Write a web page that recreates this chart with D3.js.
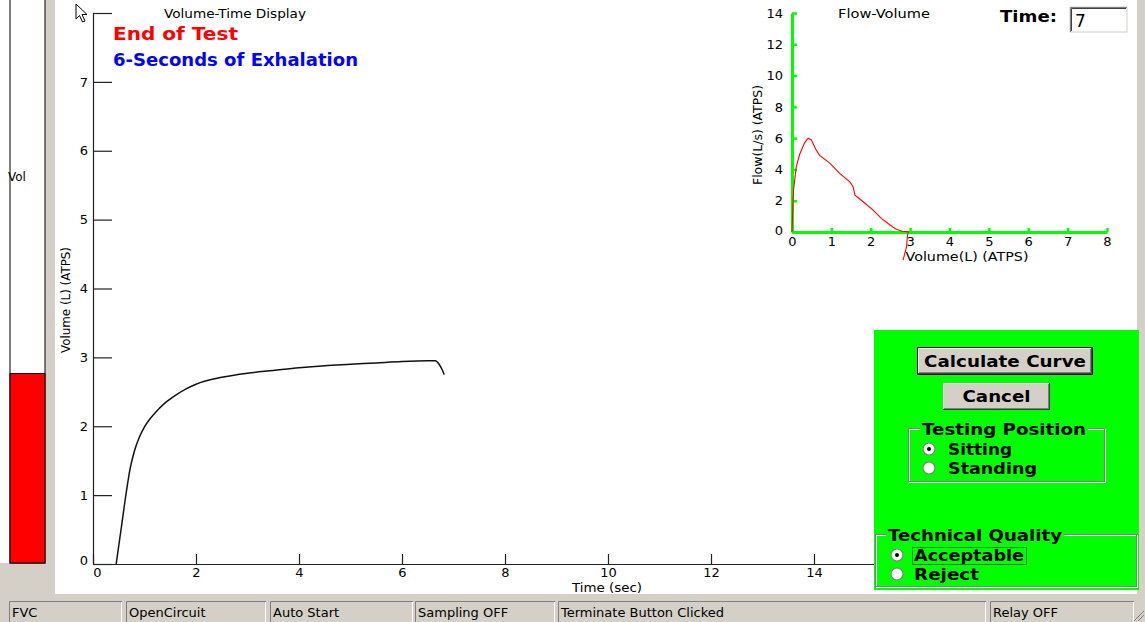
<!DOCTYPE html>
<html>
<head>
<meta charset="utf-8">
<script src="https://cdn.jsdelivr.net/npm/d3@7"></script>
<style>
  html, body { margin: 0; padding: 0; background: #d4d0c8; }
  svg { display: block; font-family: "DejaVu Sans", sans-serif; }
</style>
</head>
<body>
<svg id="chart" width="1145" height="622"></svg>
<script>
// ---- Volume-time trace (seconds, litres) ----
const timeSec = [0.45, 0.55, 0.65, 0.72, 0.8, 0.9, 1.0, 1.2, 1.4, 1.6, 1.8, 2.0, 2.5, 3.0, 3.5, 4.0, 4.5, 5.0, 5.5, 6.0, 6.5, 6.65, 6.72, 6.78, 6.82];
const volumeL = [0, 0.53, 1.06, 1.38, 1.63, 1.84, 1.99, 2.19, 2.34, 2.45, 2.54, 2.61, 2.71, 2.77, 2.81, 2.85, 2.88, 2.90, 2.92, 2.94, 2.95, 2.95, 2.90, 2.82, 2.75];

// ---- Flow-volume loop (litres, L/s) ----
const fvVolume = [0, 0.02, 0.04, 0.11, 0.2, 0.32, 0.41, 0.49, 0.6, 0.7, 0.96, 1.21, 1.47, 1.55, 1.6, 1.8, 2.06, 2.27, 2.49, 2.65, 2.8, 2.95, 2.93, 2.91, 2.82];
const fvFlow   = [0, 1.5, 2.7, 4.2, 5.0, 5.7, 6.0, 5.9, 5.3, 4.9, 4.4, 3.75, 3.2, 2.9, 2.35, 1.95, 1.4, 0.87, 0.45, 0.17, 0.05, 0.02, -0.3, -0.94, -1.8];

// ---- Axis ticks ----
const timeTicks = [0, 2, 4, 6, 8, 10, 12, 14];
const volumeTicks = [0, 1, 2, 3, 4, 5, 6, 7, 8];
const fvVolumeTicks = [0, 1, 2, 3, 4, 5, 6, 7, 8];
const fvFlowTicks = [0, 2, 4, 6, 8, 10, 12, 14];

// ---- Status bar panes ----
const statusPanes = ["FVC", "OpenCircuit", "Auto Start", "Sampling OFF", "Terminate Button Clicked", "Relay OFF"];
const statusEdges = [[9, 122], [126, 266], [270, 413], [415, 555], [558, 986], [990, 1134]];

const GREY = "#d4d0c8", GREEN = "#00ff00";
const svg = d3.select("#chart");

// Window background and white drawing surface
svg.append("rect").attr("x", 0).attr("y", 0).attr("width", 1145).attr("height", 622).attr("fill", GREY);
svg.append("rect").attr("x", 55).attr("y", 0).attr("width", 1082).attr("height", 594).attr("fill", "#fff");
svg.append("rect").attr("x", 0).attr("y", 0).attr("width", 10).attr("height", 563).attr("fill", "#fff");

// ---- Volume gauge on the left ----
const gauge = d3.scaleLinear().domain([0, 8]).range([563, 12]);
svg.append("rect").attr("x", 10).attr("y", -2).attr("width", 35).attr("height", 565)
  .attr("fill", "#fff").attr("stroke", "#000").attr("stroke-width", 1);
const lastVol = volumeL[volumeL.length - 1];
svg.append("rect").attr("x", 10).attr("y", gauge(lastVol)).attr("width", 35)
  .attr("height", gauge(0) - gauge(lastVol)).attr("fill", "#ff0000")
  .attr("stroke", "#000").attr("stroke-width", 1);
svg.append("text").attr("x", 8).attr("y", 181).attr("font-size", 12).text("Vol");

// ---- Main volume-time plot ----
const x = d3.scaleLinear().domain([0, 16]).range([93, 917]);
const y = d3.scaleLinear().domain([0, 8]).range([564, 13]);

const yAxis = svg.append("g").attr("transform", `translate(${x(0)},0)`)
  .call(d3.axisLeft(y).tickValues(volumeTicks).tickSize(-19).tickSizeOuter(0).tickPadding(5)
    .tickFormat(d => d === 8 ? "" : d));
const xAxis = svg.append("g").attr("transform", `translate(0,${y(0)})`)
  .call(d3.axisBottom(x).tickValues(timeTicks).tickSize(-10).tickSizeOuter(0).tickPadding(4));
[yAxis, xAxis].forEach(g => {
  g.selectAll("path, line").attr("stroke", "#222").attr("stroke-width", 1.2);
  g.selectAll("text").attr("font-family", "DejaVu Sans").attr("font-size", 13).attr("fill", "#000");
});
yAxis.selectAll(".tick").filter(d => d === 0).select("text").attr("dy", "0.05em");
xAxis.selectAll(".tick").filter(d => d === 0).select("text").attr("dx", "0.3em");

svg.append("path")
  .datum(timeSec.map((t, i) => [t, volumeL[i]]))
  .attr("fill", "none").attr("stroke", "#111").attr("stroke-width", 1.5)
  .attr("d", d3.line().x(d => x(d[0])).y(d => y(d[1])).curve(d3.curveMonotoneX));

svg.append("text").attr("x", 164).attr("y", 18).attr("font-size", 12)
  .attr("textLength", 142).attr("lengthAdjust", "spacingAndGlyphs").text("Volume-Time Display");
svg.append("text").attr("x", 113).attr("y", 40).attr("font-size", 18.5).attr("font-weight", "bold")
  .attr("fill", "#ff0000").attr("textLength", 125).attr("lengthAdjust", "spacingAndGlyphs").text("End of Test");
svg.append("text").attr("x", 113).attr("y", 66).attr("font-size", 17).attr("font-weight", "bold")
  .attr("fill", "#0000ff").attr("textLength", 245).attr("lengthAdjust", "spacingAndGlyphs").text("6-Seconds of Exhalation");
svg.append("text").attr("transform", "translate(70,300) rotate(-90)").attr("text-anchor", "middle")
  .attr("font-size", 12).attr("textLength", 106).attr("lengthAdjust", "spacingAndGlyphs").text("Volume (L) (ATPS)");
svg.append("text").attr("x", 607).attr("y", 592).attr("text-anchor", "middle").attr("font-size", 12)
  .attr("textLength", 70).attr("lengthAdjust", "spacingAndGlyphs").text("Time (sec)");

// Mouse pointer resting on the top of the axis
svg.append("path")
  .attr("d", "M76,4 L76,19 L79.5,15.5 L82.5,22 L85,21 L82,14.5 L87,14.5 Z")
  .attr("fill", "#fff").attr("stroke", "#000").attr("stroke-width", 1);

// ---- Flow-volume inset ----
const fx = d3.scaleLinear().domain([0, 8]).range([792, 1107]);
const fy = d3.scaleLinear().domain([0, 14]).range([232, 13]);

const fyAxis = svg.append("g").attr("transform", `translate(${fx(0)},0)`)
  .call(d3.axisLeft(fy).tickValues(fvFlowTicks).tickSize(-5).tickSizeOuter(0).tickPadding(9));
const fxAxis = svg.append("g").attr("transform", `translate(0,${fy(0)})`)
  .call(d3.axisBottom(fx).tickValues(fvVolumeTicks).tickSize(-4).tickSizeOuter(0).tickPadding(5));
[fyAxis, fxAxis].forEach(g => {
  g.selectAll("path").attr("stroke", GREEN).attr("stroke-width", 3);
  g.selectAll("line").attr("stroke", GREEN).attr("stroke-width", 2.5);
  g.selectAll("text").attr("font-family", "DejaVu Sans").attr("font-size", 13).attr("fill", "#000");
});
fyAxis.selectAll(".tick").filter(d => d === 0).select("text").attr("dy", "0.2em");

svg.append("path")
  .datum(fvVolume.map((v, i) => [v, fvFlow[i]]))
  .attr("fill", "none").attr("stroke", "#ff0000").attr("stroke-width", 1.1)
  .attr("d", d3.line().x(d => fx(d[0])).y(d => fy(d[1])));

svg.append("text").attr("x", 838).attr("y", 18).attr("font-size", 12)
  .attr("textLength", 92).attr("lengthAdjust", "spacingAndGlyphs").text("Flow-Volume");
svg.append("text").attr("x", 967).attr("y", 261).attr("text-anchor", "middle").attr("font-size", 12.5)
  .attr("textLength", 123).attr("lengthAdjust", "spacingAndGlyphs").text("Volume(L) (ATPS)");
svg.append("text").attr("transform", "translate(762,135) rotate(-90)").attr("text-anchor", "middle")
  .attr("font-size", 12.5).attr("textLength", 100).attr("lengthAdjust", "spacingAndGlyphs").text("Flow(L/s) (ATPS)");

// Time read-out
svg.append("text").attr("x", 1000).attr("y", 22).attr("font-size", 16).attr("font-weight", "bold")
  .attr("textLength", 57).attr("lengthAdjust", "spacingAndGlyphs").text("Time:");
svg.append("rect").attr("x", 1070).attr("y", 7).attr("width", 57).attr("height", 25).attr("fill", "#fff")
  .attr("stroke", "#d4d0c8").attr("stroke-width", 1);
svg.append("path").attr("d", "M1070.5,32 L1070.5,7.5 L1127,7.5").attr("fill", "none").attr("stroke", "#808080");
svg.append("path").attr("d", "M1071.5,31 L1071.5,8.5 L1126,8.5").attr("fill", "none").attr("stroke", "#404040");
svg.append("text").attr("x", 1075).attr("y", 27).attr("font-size", 17).text("7");

// ---- Control panel ----
svg.append("rect").attr("x", 874).attr("y", 330).attr("width", 265).attr("height", 260).attr("fill", GREEN);

function button(bx, by, bw, bh, label, tl, isDefault) {
  const g = svg.append("g");
  if (isDefault) {
    g.append("rect").attr("x", bx).attr("y", by).attr("width", bw).attr("height", bh).attr("fill", "#000");
    bx += 1; by += 1; bw -= 2; bh -= 2;
  }
  g.append("rect").attr("x", bx).attr("y", by).attr("width", bw).attr("height", bh).attr("fill", "#404040");
  g.append("rect").attr("x", bx).attr("y", by).attr("width", bw - 1).attr("height", bh - 1).attr("fill", "#fff");
  g.append("rect").attr("x", bx + 1).attr("y", by + 1).attr("width", bw - 2).attr("height", bh - 2).attr("fill", "#808080");
  g.append("rect").attr("x", bx + 1).attr("y", by + 1).attr("width", bw - 3).attr("height", bh - 3).attr("fill", GREY);
  g.append("text").attr("x", bx + bw / 2).attr("y", by + bh / 2 + 5.5).attr("text-anchor", "middle")
    .attr("font-size", 15).attr("font-weight", "bold").attr("textLength", tl)
    .attr("lengthAdjust", "spacingAndGlyphs").text(label);
}
button(917, 347, 176, 28, "Calculate Curve", 162, true);
button(943, 383, 107, 27, "Cancel", 68, false);

function groupBox(gx, gy, gw, gh, title, tx, tl) {
  svg.append("rect").attr("x", gx + 0.5).attr("y", gy + 0.5).attr("width", gw).attr("height", gh)
    .attr("fill", "none").attr("stroke", "#fff");
  svg.append("rect").attr("x", gx - 0.5).attr("y", gy - 0.5).attr("width", gw).attr("height", gh)
    .attr("fill", "none").attr("stroke", "#808080");
  svg.append("rect").attr("x", tx - 2).attr("y", gy - 10).attr("width", tl + 4).attr("height", 20).attr("fill", GREEN);
  svg.append("text").attr("x", tx).attr("y", gy + 6).attr("font-size", 16).attr("font-weight", "bold")
    .attr("textLength", tl).attr("lengthAdjust", "spacingAndGlyphs").text(title);
}
function radio(cx, cy, tx, label, tl, checked) {
  svg.append("circle").attr("cx", cx).attr("cy", cy).attr("r", 6).attr("fill", "#fff")
    .attr("stroke", "#808080").attr("stroke-width", 1.2);
  if (checked) svg.append("circle").attr("cx", cx).attr("cy", cy).attr("r", 2).attr("fill", "#000");
  svg.append("text").attr("x", tx).attr("y", cy + 5.5).attr("font-size", 15).attr("font-weight", "bold")
    .attr("textLength", tl).attr("lengthAdjust", "spacingAndGlyphs").text(label);
}
groupBox(909, 429, 196, 53, "Testing Position", 922, 164);
radio(929, 449, 948, "Sitting", 64, true);
radio(929, 468, 948, "Standing", 89, false);

groupBox(876, 535, 261, 52, "Technical Quality", 888, 174);
radio(897, 555, 914, "Acceptable", 110, true);
radio(897, 574, 914, "Reject", 65, false);
svg.append("rect").attr("x", 912.5).attr("y", 547.5).attr("width", 114).attr("height", 17)
  .attr("fill", "none").attr("stroke", "#000").attr("stroke-dasharray", "1,1");

// ---- Status bar ----
statusPanes.forEach((label, i) => {
  const [a, b] = statusEdges[i];
  svg.append("path").attr("d", `M${a + 0.5},622 L${a + 0.5},601.5 L${b},601.5`)
    .attr("fill", "none").attr("stroke", "#808080");
  svg.append("path").attr("d", `M${b - 0.5},602 L${b - 0.5},622`).attr("fill", "none").attr("stroke", "#fff");
  svg.append("text").attr("x", a + 3).attr("y", 617).attr("font-size", 13).text(label);
});
// size grip in the corner
svg.append("path").attr("d", "M1144,611 L1134,621 M1144,615 L1138,621").attr("stroke", "#808080").attr("fill", "none");
</script>
</body>
</html>
